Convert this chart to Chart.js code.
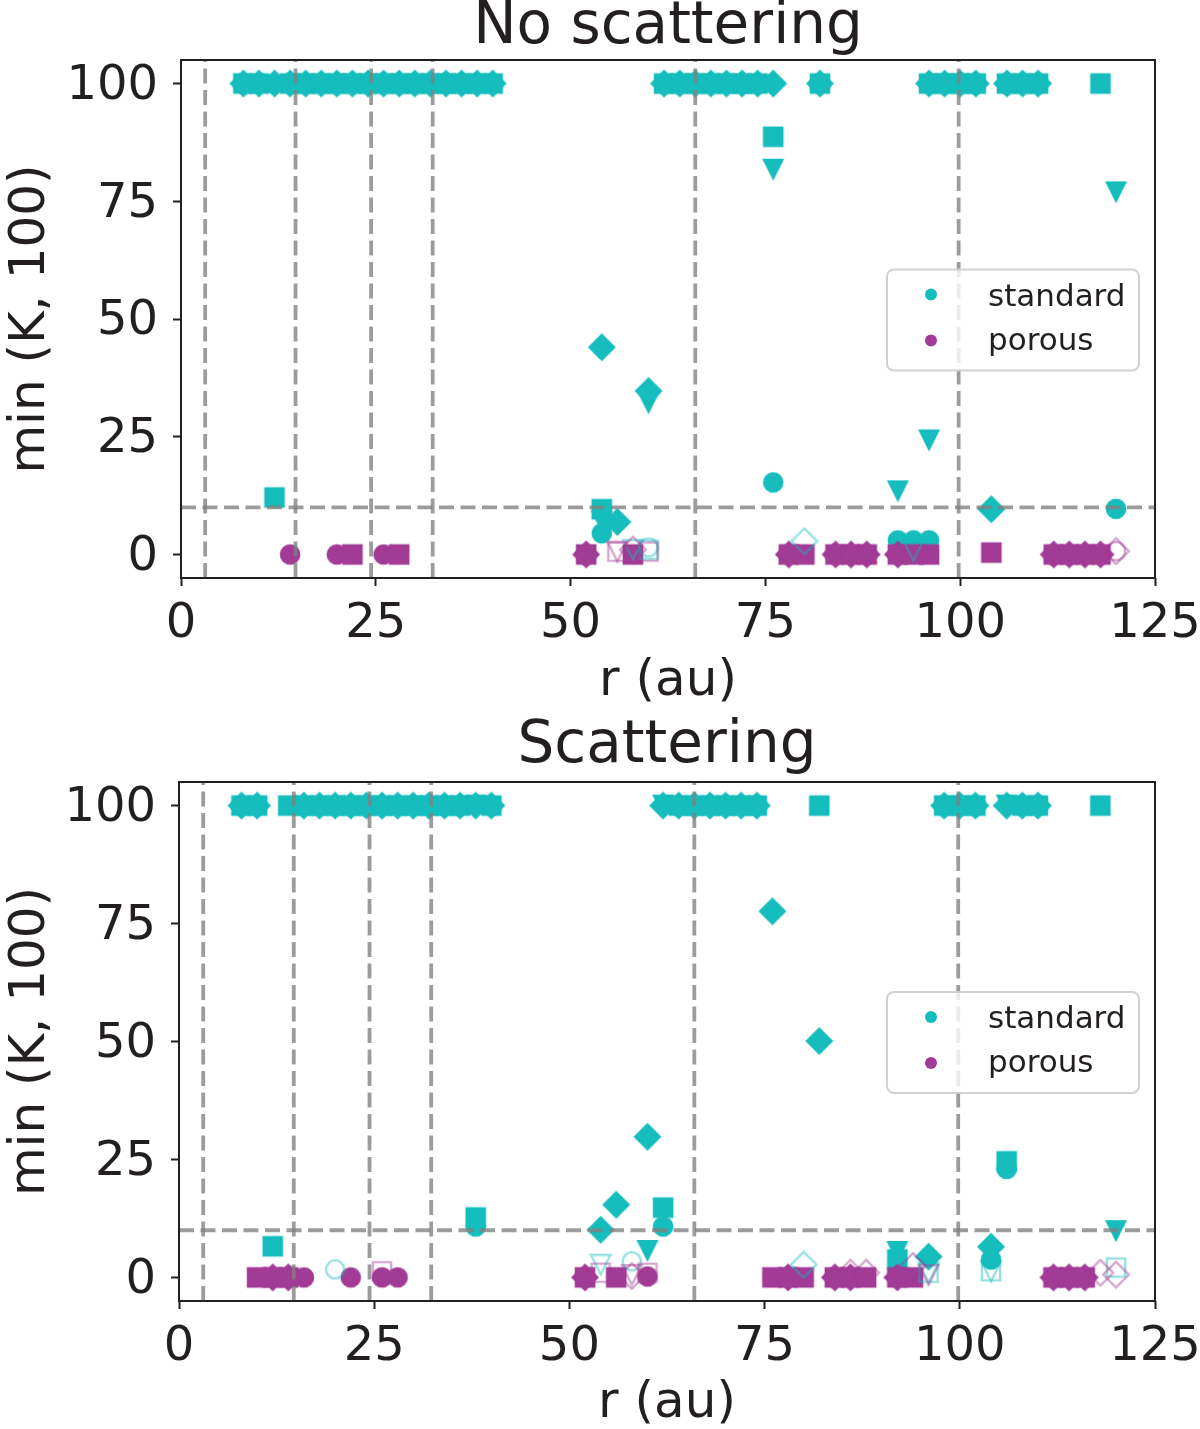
<!DOCTYPE html>
<html>
<head>
<meta charset="utf-8">
<script src="https://cdn.jsdelivr.net/npm/chart.js@4.4.1/dist/chart.umd.min.js"></script>
<style>
  html, body { margin: 0; padding: 0; background: #fff; }
  canvas { display: block; }
</style>
</head>
<body>
<canvas id="noscat-chart" width="1200" height="715"></canvas>
<canvas id="scat-chart" width="1200" height="714"></canvas>
<script>
Chart.defaults.font.family = "'DejaVu Sans', sans-serif";
Chart.defaults.color = '#231f20';

// reference radii (au) and K threshold
const ringR = [3.1, 14.7, 24.4, 32.3, 66, 99.8];
const kLimit = 10;
const xTicks = [0, 25, 50, 75, 100, 125];
const yTicks = [0, 25, 50, 75, 100];
const seriesNames = ['standard', 'porous'];

// ---- No scattering ----
// radii where min(K,100) = 100 (standard)
const nsCapSquareR = [8, 10, 14, 16, 18, 20, 22, 24, 26, 28, 30, 32, 34, 36, 38, 40, 62, 64, 66, 68, 70, 72, 74, 82, 96, 98, 100, 102, 106, 108, 110, 118];
const nsCapDiamondR = [8, 10, 12, 14, 16, 18, 20, 22, 24, 26, 28, 30, 32, 34, 36, 38, 40, 62, 64, 66, 68, 70, 72, 74, 76, 82, 96, 98, 100, 102, 106, 108, 110];
const nsStdCircle = [[12, 100], [54, 4.5], [76, 15.3], [92, 3], [94, 3], [96, 3], [120, 9.7]];
const nsStdSquare = [[12, 12.1], [54, 9.6], [76, 88.7]];
const nsStdTriangle = [[54, 7], [60, 32.1], [76, 81.7], [92, 13.4], [96, 24.2], [120, 76.9]];
const nsStdDiamond = [[54, 44], [56, 6.9], [60, 34.7], [104, 9.6]];
const nsPorCircle = [[14, 0], [20, 0], [26, 0]];
const nsPorSquare = [[22, 0], [28, 0], [52, 0], [58, 0], [78, 0], [80, 0], [84, 0], [86, 0], [88, 0], [92, 0], [94, 0], [96, 0], [104, 0.4], [112, 0], [114, 0], [116, 0], [118, 0]];
const nsPorDiamond = [[52, 0], [78, 0], [84, 0], [86, 0], [88, 0], [92, 0], [112, 0], [114, 0], [116, 0], [118, 0]];
const nsStdOpenCircle = [[60, 1.5]];
const nsStdOpenSquare = [[60, 1]];
const nsStdOpenTriangle = [[58, 1], [94, 0.8]];
const nsStdOpenDiamond = [[80, 2.8]];
const nsPorOpenCircle = [[120, 0.7]];
const nsPorOpenSquare = [[56, 0.6], [60, 0.6]];
const nsPorOpenTriangle = [[56, 0.6]];
const nsPorOpenDiamond = [[58, 1], [120, 0.7]];

// ---- Scattering ----
const scCapSquareR = [8, 10, 14, 16, 18, 20, 22, 24, 26, 28, 30, 32, 34, 36, 40, 64, 66, 68, 70, 72, 74, 82, 98, 100, 102, 108, 110, 118];
const scCapDiamondR = [8, 10, 16, 18, 20, 22, 24, 26, 28, 30, 32, 34, 36, 38, 40, 62, 64, 66, 68, 70, 72, 74, 98, 100, 102, 106, 108, 110];
const scStdCircle = [[38, 10.8], [62, 10.8], [104, 3.8], [106, 23]];
const scStdSquare = [[12, 6.6], [38, 12.7], [62, 14.8], [92, 3.8], [106, 24.6]];
const scStdTriangle = [[38, 100], [62, 100], [106, 100], [60, 5.6], [92, 5.4], [120, 9.8]];
const scStdDiamond = [[54, 10.1], [56, 15.4], [60, 29.8], [76, 77.6], [82, 50.1], [96, 4.4], [104, 6.5]];
const scPorCircle = [[16, 0], [22, 0], [26, 0], [28, 0], [60, 0.2]];
const scPorSquare = [[10, 0], [12, 0], [14, 0], [52, 0], [56, 0], [76, 0], [78, 0], [80, 0], [84, 0], [86, 0], [88, 0], [92, 0], [94, 0], [112, 0], [114, 0], [116, 0]];
const scPorDiamond = [[12, 0], [14, 0], [52, 0], [78, 0], [84, 0], [86, 0], [92, 0], [112, 0], [114, 0], [116, 0]];
const scStdOpenCircle = [[20, 1.7], [58, 3.4]];
const scStdOpenSquare = [[96, 1], [104, 1.3], [120, 2.1]];
const scStdOpenTriangle = [[54, 2.7], [96, 1], [104, 1.3]];
const scStdOpenDiamond = [[80, 2.7]];
const scPorOpenSquare = [[26, 1.3], [54, 1], [60, 1]];
const scPorOpenTriangle = [[58, 0.5], [96, 0.5]];
const scPorOpenDiamond = [[58, 0.3], [86, 1], [88, 1], [94, 2.4], [118, 1], [120, 0.6]];

const CYAN = 'rgb(21,189,189)';
const PURPLE = 'rgb(161,59,149)';
const CYAN_OPEN = 'rgba(21,189,189,0.45)';
const PURPLE_OPEN = 'rgba(161,59,149,0.45)';
const seriesColors = [CYAN, PURPLE];
const INK = '#231f20';

//matplotlib-like marker images
const markerCache = {};
function marker(shape, color, filled) {
  const key = shape + color + filled;
  if (markerCache[key]) return markerCache[key];
  const c = document.createElement('canvas');
  c.width = 34;
  c.height = 34;
  const g = c.getContext('2d');
  const m = 17;
  const k = filled ? 0 : 1.2;
  g.beginPath();
  if (shape === 'o') {
    g.arc(m, m, 10.3 - k, 0, Math.PI * 2);
  } else if (shape === 's') {
    g.rect(m - 10.3 + k, m - 10.3 + k, 20.6 - 2 * k, 20.6 - 2 * k);
  } else if (shape === 'v') {
    const r = 11 - k;
    g.moveTo(m - r, m - r); g.lineTo(m + r, m - r); g.lineTo(m, m + r); g.closePath();
  } else {
    const r = 14 - k;
    g.moveTo(m, m - r); g.lineTo(m + r, m); g.lineTo(m, m + r); g.lineTo(m - r, m); g.closePath();
  }
  if (filled) {
    g.fillStyle = color;
    g.fill();
  } else {
    g.strokeStyle = color;
    g.lineWidth = 2.4;
    g.stroke();
  }
  markerCache[key] = c;
  return c;
}

function pts(list) {
  return list.map(p => ({x: p[0], y: p[1]}));
}
function capped(rs) {
  return rs.map(r => ({x: r, y: 100}));
}

function markSet(label, data, shape, color, filled, order) {
  return {
    label: label,
    data: data,
    pointStyle: marker(shape, color, filled),
    pointRadius: 10,
    pointHoverRadius: 10,
    order: order
  };
}

function refLines() {
  const style = {
    showLine: true,
    pointRadius: 0,
    pointHoverRadius: 0,
    borderColor: 'rgba(128,128,128,0.78)',
    borderWidth: 3.8,
    borderDash: [15, 6.5],
    order: 0
  };
  const out = ringR.map(r => Object.assign({label: 'r = ' + r, data: [{x: r, y: -5}, {x: r, y: 105}]}, style));
  out.push(Object.assign({label: 'K = ' + kLimit, data: [{x: 0, y: kLimit}, {x: 125, y: kLimit}]}, style));
  return out;
}

function panelDatasets(p) {
  return refLines().concat([
    markSet('standard o', pts(p.stdCircle), 'o', CYAN, true, 7),
    markSet('standard s', capped(p.capSquare).concat(pts(p.stdSquare)), 's', CYAN, true, 6),
    markSet('standard v', pts(p.stdTriangle), 'v', CYAN, true, 6),
    markSet('standard D', capped(p.capDiamond).concat(pts(p.stdDiamond)), 'D', CYAN, true, 5),
    markSet('porous o', pts(p.porCircle), 'o', PURPLE, true, 4),
    markSet('porous s', pts(p.porSquare), 's', PURPLE, true, 4),
    markSet('porous D', pts(p.porDiamond), 'D', PURPLE, true, 4),
    markSet('standard open o', pts(p.stdOpenCircle), 'o', CYAN_OPEN, false, 3),
    markSet('standard open s', pts(p.stdOpenSquare), 's', CYAN_OPEN, false, 3),
    markSet('standard open v', pts(p.stdOpenTriangle), 'v', CYAN_OPEN, false, 3),
    markSet('standard open D', pts(p.stdOpenDiamond), 'D', CYAN_OPEN, false, 3),
    markSet('porous open o', pts(p.porOpenCircle), 'o', PURPLE_OPEN, false, 2),
    markSet('porous open s', pts(p.porOpenSquare), 's', PURPLE_OPEN, false, 2),
    markSet('porous open v', pts(p.porOpenTriangle), 'v', PURPLE_OPEN, false, 2),
    markSet('porous open D', pts(p.porOpenDiamond), 'D', PURPLE_OPEN, false, 2)
  ]);
}

const frame = {
  id: 'frame',
  afterDatasetsDraw(chart) {
    const {ctx, chartArea: a} = chart;
    ctx.save();
    ctx.strokeStyle = INK;
    ctx.lineWidth = 2;
    ctx.strokeRect(a.left, a.top, a.right - a.left, a.bottom - a.top);
    ctx.restore();
  }
};

const legendBox = {
  id: 'legendBox',
  afterDraw(chart) {
    const {ctx, chartArea: a} = chart;
    const w = 252, h = 101;
    const x0 = a.right - 16 - w;
    const y0 = (a.top + a.bottom) / 2 - h / 2 + 1;
    ctx.save();
    ctx.beginPath();
    ctx.roundRect(x0, y0, w, h, 7);
    ctx.fillStyle = 'rgba(255,255,255,0.8)';
    ctx.fill();
    ctx.lineWidth = 2;
    ctx.strokeStyle = 'rgba(204,204,204,0.9)';
    ctx.stroke();
    ctx.font = "31px 'DejaVu Sans'";
    ctx.textAlign = 'left';
    ctx.textBaseline = 'alphabetic';
    seriesNames.forEach(function (name, i) {
      ctx.beginPath();
      ctx.arc(x0 + 44, y0 + 25 + 46 * i, 6, 0, Math.PI * 2);
      ctx.fillStyle = seriesColors[i];
      ctx.fill();
      ctx.fillStyle = INK;
      ctx.fillText(name, x0 + 101, y0 + 36 + 44 * i);
    });
    ctx.restore();
  }
};

function buildChart(id, title, datasets, g) {
  let ctx = document.getElementById(id).getContext('2d');
  return new Chart(ctx, {
    type: 'scatter',
    data: {datasets: datasets},
    options: {
      responsive: false,
      devicePixelRatio: 1,
      animation: false,
      events: [],
      layout: {padding: {left: 0, right: 45, top: 0, bottom: 0}},
      plugins: {
        legend: {display: false},
        tooltip: {enabled: false},
        title: {
          display: true,
          fullSize: false,
          text: title,
          color: INK,
          font: {size: 58, weight: 'normal', lineHeight: g.titleLH + 'px'},
          padding: {top: 0, bottom: g.titlePB}
        }
      },
      scales: {
        x: {
          type: 'linear',
          min: 0,
          max: 125,
          afterBuildTicks: s => { s.ticks = xTicks.map(v => ({value: v})); },
          afterFit: s => { s.height = g.xH; s.paddingLeft = 0; s.paddingRight = 0; },
          ticks: {font: {size: 48, lineHeight: 1}, color: INK, padding: 15, maxRotation: 0, autoSkip: false},
          grid: {drawOnChartArea: false, tickLength: 8, tickWidth: 2, tickColor: INK},
          border: {display: false},
          title: {display: true, text: 'r (au)', color: INK, font: {size: 50, lineHeight: 1}, padding: {top: 0, bottom: g.xTitlePB}}
        },
        y: {
          type: 'linear',
          min: -5,
          max: 105,
          afterBuildTicks: s => { s.ticks = yTicks.map(v => ({value: v})); },
          afterFit: s => { s.width = g.yW; s.paddingTop = 0; s.paddingBottom = 0; },
          ticks: {font: {size: 48, lineHeight: 1}, color: INK, padding: 15, labelOffset: 3},
          grid: {drawOnChartArea: false, tickLength: 8, tickWidth: 2, tickColor: INK},
          border: {display: false},
          title: {display: true, text: 'min (K, 100)', color: INK, font: {size: 50, lineHeight: 1}, padding: {top: 6, bottom: 0}}
        }
      }
    },
    plugins: [frame, legendBox]
  });
}

buildChart('noscat-chart', 'No scattering', panelDatasets({
  capSquare: nsCapSquareR, capDiamond: nsCapDiamondR,
  stdCircle: nsStdCircle, stdSquare: nsStdSquare, stdTriangle: nsStdTriangle, stdDiamond: nsStdDiamond,
  porCircle: nsPorCircle, porSquare: nsPorSquare, porDiamond: nsPorDiamond,
  stdOpenCircle: nsStdOpenCircle, stdOpenSquare: nsStdOpenSquare, stdOpenTriangle: nsStdOpenTriangle, stdOpenDiamond: nsStdOpenDiamond,
  porOpenCircle: nsPorOpenCircle, porOpenSquare: nsPorOpenSquare, porOpenTriangle: nsPorOpenTriangle, porOpenDiamond: nsPorOpenDiamond
}), {titleLH: 56, titlePB: 4, xH: 137, xTitlePB: 8, yW: 181});

buildChart('scat-chart', 'Scattering', panelDatasets({
  capSquare: scCapSquareR, capDiamond: scCapDiamondR,
  stdCircle: scStdCircle, stdSquare: scStdSquare, stdTriangle: scStdTriangle, stdDiamond: scStdDiamond,
  porCircle: scPorCircle, porSquare: scPorSquare, porDiamond: scPorDiamond,
  stdOpenCircle: scStdOpenCircle, stdOpenSquare: scStdOpenSquare, stdOpenTriangle: scStdOpenTriangle, stdOpenDiamond: scStdOpenDiamond,
  porOpenCircle: [], porOpenSquare: scPorOpenSquare, porOpenTriangle: scPorOpenTriangle, porOpenDiamond: scPorOpenDiamond
}), {titleLH: 64, titlePB: 3, xH: 128, xTitlePB: 0, yW: 179});
</script>
</body>
</html>
